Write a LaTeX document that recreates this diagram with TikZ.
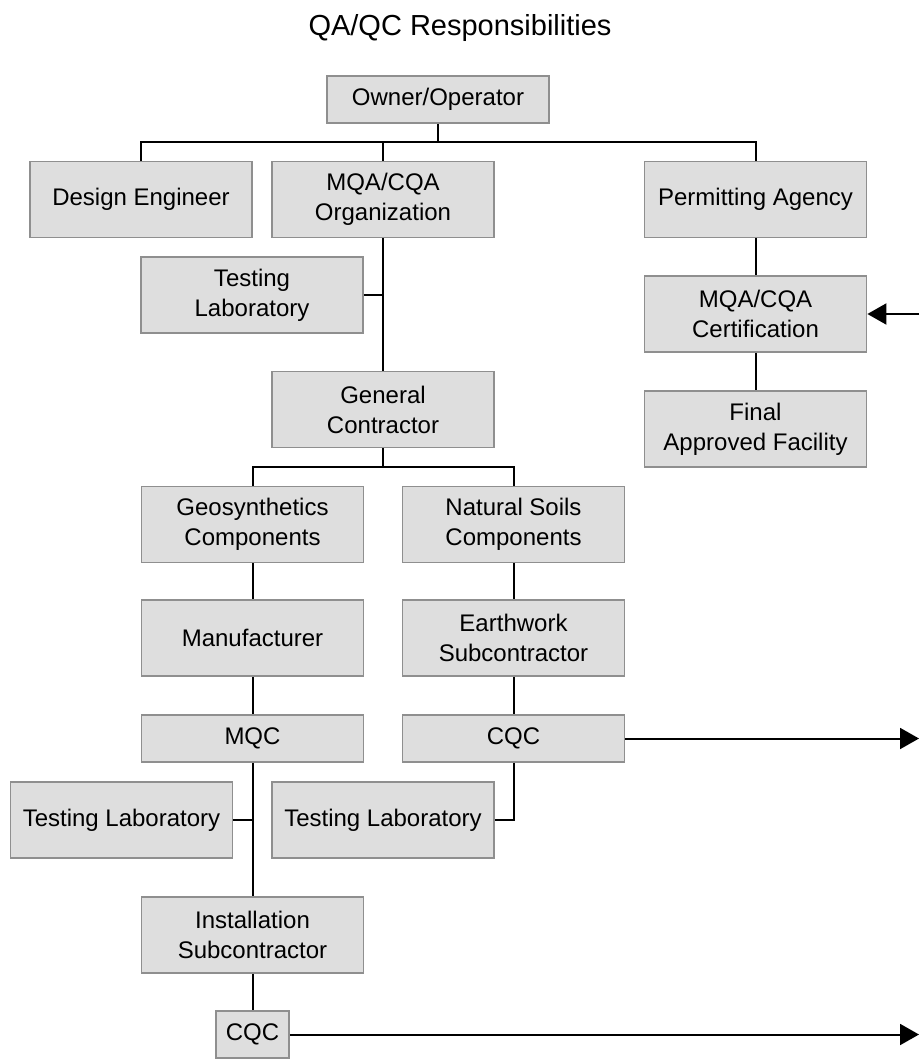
\documentclass[tikz,border=0pt]{standalone}
\usepackage{fontspec}
\setmainfont{Liberation Sans}
\usetikzlibrary{arrows.meta}
\definecolor{boxfill}{HTML}{DEDEDE}
\definecolor{boxline}{HTML}{8F8F8F}
\begin{document}
\begin{tikzpicture}[x=0.5pt,y=-0.5pt,
  box/.style={draw=boxline, fill=boxfill, line width=0.9pt, align=center,
    minimum width=111pt, minimum height=38pt, inner sep=0pt,
    font=\fontsize{12}{15}\selectfont},
  thinbox/.style={box, minimum height=23.5pt},
  conn/.style={draw=black, line width=1pt},
  arr/.style={conn, -{Triangle[length=9.5pt,width=10.5pt]}}]
\useasboundingbox (0,0) rectangle (920,1059);
\fill[white] (0,0) rectangle (920,1059);
\node[font=\fontsize{14.5}{17}\selectfont, anchor=base] (title) at (460,36) {QA/QC Responsibilities};
% boxes
\node[thinbox] (owner) at (438,99.5) {Owner/Operator};
\node[box] (design) at (141,199.5) {Design Engineer};
\node[box] (mqaorg) at (383,199.5) {MQA/CQA\\Organization};
\node[box] (permit) at (755.5,199.5) {Permitting Agency};
\node[box] (tl1) at (252,295) {Testing\\Laboratory};
\node[box] (cert) at (755.5,314) {MQA/CQA\\Certification};
\node[box] (gc) at (383,409.5) {General\\Contractor};
\node[box] (final) at (755.5,429) {Final\\Approved Facility};
\node[box] (geo) at (252.5,524.5) {Geosynthetics\\Components};
\node[box] (nat) at (513.5,524.5) {Natural Soils\\Components};
\node[box] (manuf) at (252.5,638) {Manufacturer};
\node[box] (earth) at (513.5,638) {Earthwork\\Subcontractor};
\node[thinbox] (mqc) at (252.5,738.5) {MQC};
\node[thinbox] (cqc1) at (513.5,738.5) {CQC};
\node[box] (tl2) at (121.5,820) {Testing Laboratory};
\node[box] (tl3) at (383,820) {Testing Laboratory};
\node[box] (inst) at (252.5,935) {Installation\\Subcontractor};
\node[thinbox, minimum width=36.5pt] (cqc2) at (252.5,1034.5) {CQC};
% junction coordinates
\coordinate (j1) at (438,142);
\coordinate (j2) at (383,467);
\coordinate (r1) at (919,738.5);
\coordinate (r2) at (919,1034.5);
\coordinate (r3) at (919,314);
% connectors
\draw[conn] (owner.south) -- (j1);
\draw[conn] (design.north) |- (j1) -| (permit.north);
\draw[conn] (mqaorg.north) -- (mqaorg.north |- j1);
\draw[conn] (mqaorg.south) -- (gc.north);
\draw[conn] (tl1.east) -- (tl1.east -| mqaorg.south);
\draw[conn] (permit.south) -- (cert.north);
\draw[conn] (cert.south) -- (final.north);
\draw[conn] (gc.south) -- (j2);
\draw[conn] (geo.north) |- (j2) -| (nat.north);
\draw[conn] (geo.south) -- (manuf.north);
\draw[conn] (manuf.south) -- (mqc.north);
\draw[conn] (mqc.south) -- (inst.north);
\draw[conn] (inst.south) -- (cqc2.north);
\draw[conn] (tl2.east) -- (tl2.east -| mqc.south);
\draw[conn] (nat.south) -- (earth.north);
\draw[conn] (earth.south) -- (cqc1.north);
\draw[conn] (cqc1.south) |- (tl3.east);
\draw[arr] (cqc1.east) -- (r1);
\draw[arr] (cqc2.east) -- (r2);
\draw[arr] (r3) -- (cert.east);
\end{tikzpicture}
\end{document}
